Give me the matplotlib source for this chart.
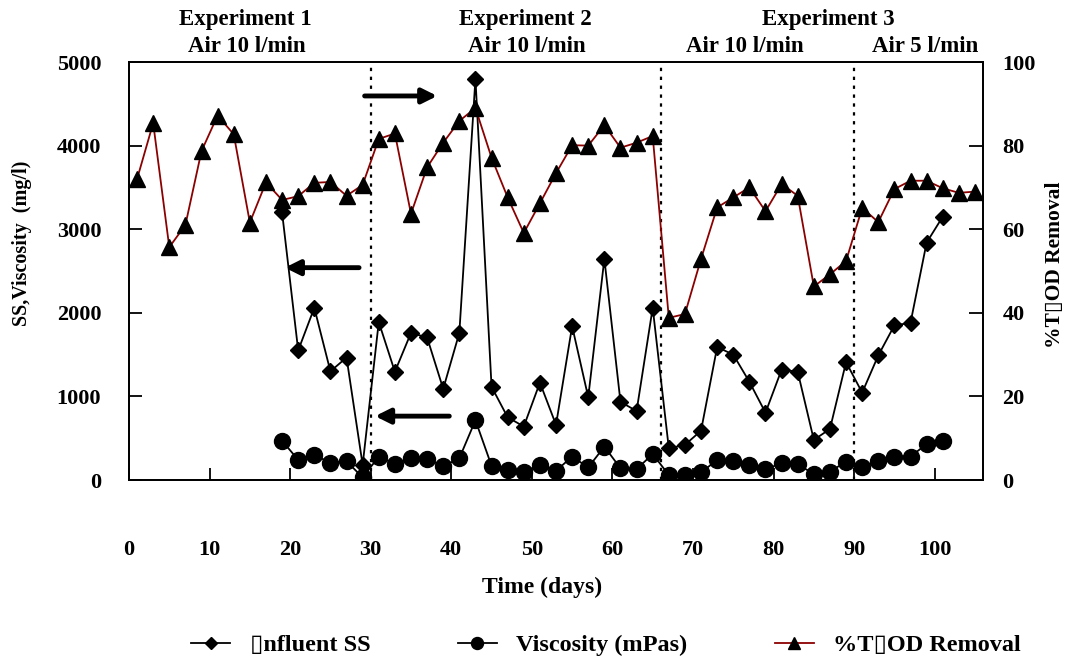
import matplotlib
matplotlib.use("Agg")
import matplotlib.pyplot as plt

plt.rcParams['font.family'] = ['Liberation Serif', 'DejaVu Sans']
plt.rcParams['font.weight'] = 'bold'

# Influent SS (mg/l), left axis
ss_days = [19, 21, 23, 25, 27, 29, 31, 33, 35, 37, 39, 41, 43, 45, 47, 49,
           51, 53, 55, 57, 59, 61, 63, 65, 67, 69, 71, 73, 75, 77, 79, 81,
           83, 85, 87, 89, 91, 93, 95, 97, 99, 101]
ss_vals = [3200, 1550, 2060, 1300, 1465, 180, 1890, 1295, 1760, 1705, 1090, 1760,
           4800, 1115, 750, 640, 1165, 660, 1840, 990, 2645, 935, 825, 2060,
           380, 420, 590, 1590, 1500, 1175, 805, 1320, 1295, 480, 610, 1410,
           1045, 1490, 1850, 1880, 2840, 3150]

# Viscosity (mPas), left axis
visc_days = ss_days
visc_vals = [470, 240, 305, 200, 225, 30, 280, 190, 260, 250, 165, 260,
             715, 170, 120, 100, 180, 110, 280, 150, 400, 140, 130, 310,
             60, 60, 90, 240, 230, 180, 130, 200, 190, 70, 100, 220,
             150, 230, 280, 280, 430, 470]

# %TCOD removal, right axis
cod_days = [1, 3, 5, 7, 9, 11, 13, 15, 17, 19, 21, 23, 25, 27, 29, 31, 33, 35,
            37, 39, 41, 43, 45, 47, 49, 51, 53, 55, 57, 59, 61, 63, 65, 67, 69,
            71, 73, 75, 77, 79, 81, 83, 85, 87, 89, 91, 93, 95, 97, 99, 101, 103, 105]
cod_vals = [72, 85.4, 55.7, 61, 78.7, 87.2, 82.7, 61.6, 71.2, 67, 67.9, 71.1, 71.3,
            68, 70.6, 81.6, 82.9, 63.7, 74.8, 80.7, 85.9, 89, 77.1, 67.6, 59.1, 66.2,
            73.4, 80.1, 80, 84.9, 79.5, 80.7, 82.3, 38.8, 39.7, 52.9, 65.2, 67.6,
            70, 64.3, 70.8, 68, 46.3, 49.2, 52.4, 65.1, 61.7, 69.6, 71.6, 71.6,
            69.8, 68.7, 69]

phase_bounds = [30, 66, 90]
box = "\u25af"

fig = plt.figure(figsize=(10.67, 6.57), dpi=100)
ax = fig.add_axes([0.1209, 0.2694, 0.8004, 0.6362])
ax2 = ax.twinx()

l1, = ax.plot(ss_days, ss_vals, color='black', lw=1.3, marker='D', ms=8.5,
              label=box + "nfluent SS", zorder=3)
l2, = ax.plot(visc_days, visc_vals, color='black', lw=1.3, marker='o', ms=11.5,
              label="Viscosity (mPas)", zorder=3)
l3, = ax2.plot(cod_days, cod_vals, color='#8b0000', lw=1.3, marker='^', ms=11.5,
               mfc='black', mec='black', label="%T" + box + "OD Removal", zorder=4)

for b in phase_bounds:
    ax.axvline(b, color='black', ls=(0, (1.5, 2.5)), lw=1.6, zorder=2)

ax.set_xlim(0, 106)
ax.set_ylim(0, 5000)
ax2.set_ylim(0, 100)
ax.set_xticks(range(0, 101, 10))
ax.set_yticks(range(0, 5001, 1000))
ax2.set_yticks(range(0, 101, 20))

ax.tick_params(axis='x', direction='in', length=9, width=1.3, pad=43, labelsize=16)
ax.tick_params(axis='y', direction='in', length=9, width=1.3, pad=20, labelsize=16)
ax2.tick_params(axis='y', direction='in', length=10, width=1.3, pad=14, labelsize=16)
for a in (ax, ax2):
    for s in a.spines.values():
        s.set_linewidth(1.3)

ax.set_xlabel("Time (days)", fontsize=17, fontweight='bold')
ax.xaxis.set_label_coords(0.484, -0.232)
ax.set_ylabel("SS,Viscosity  (mg/l)", fontsize=14.5, fontweight='bold')
ax.yaxis.set_label_coords(-0.1136, 0.567)
ax2.set_ylabel("%T" + box + "OD Removal", fontsize=15.5, fontweight='bold')
ax2.yaxis.set_label_coords(1.0726, 0.514)

# arrows pointing to the relevant axis
arrow = dict(arrowstyle='-|>', lw=3.5, color='black', mutation_scale=22)
ax.annotate("", xy=(38.6, 4594), xytext=(28.9, 4594), arrowprops=arrow)
ax.annotate("", xy=(19.0, 2540), xytext=(28.9, 2540), arrowprops=arrow)
ax.annotate("", xy=(30.2, 764), xytext=(40.1, 764), arrowprops=arrow)

# phase headings
heads = [(245, 20, "Experiment 1"), (247, 47, "Air 10 l/min"),
         (525, 20, "Experiment 2"), (527, 47, "Air 10 l/min"),
         (828, 20, "Experiment 3"), (745, 47, "Air 10 l/min"),
         (925, 47, "Air 5 l/min")]
for x, y, t in heads:
    fig.text(x / 1067, 1 - y / 657, t, ha='center', va='center',
             fontsize=16.5, fontweight='bold')

fig.legend(handles=[l1, l2, l3], loc='center', bbox_to_anchor=(0.568, 0.018),
           ncol=3, frameon=False, fontsize=17.5, handlelength=1.6,
           handletextpad=0.8, columnspacing=3.6, markerscale=0.75)

fig.savefig("out.png", dpi=100)
